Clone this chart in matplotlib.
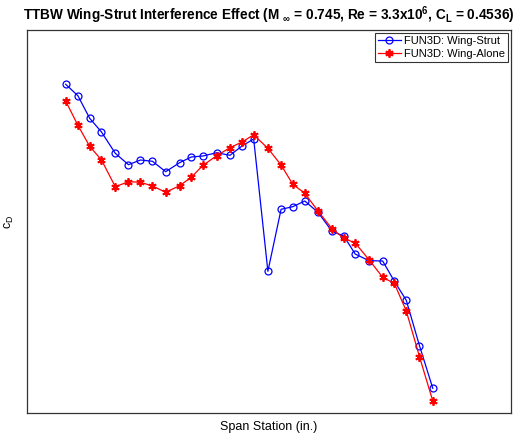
import matplotlib
matplotlib.use("Agg")
import matplotlib.pyplot as plt

# span stations (relative units)
span_station = [38.7, 50.9, 62.7, 74.5, 88.3, 101.5, 113.5, 125.5, 138.7, 152.6,
                164.3, 176.0, 189.7, 203.0, 215.0, 226.7, 240.9, 254.1, 265.8, 277.8,
                291.0, 305.0, 316.8, 328.2, 342.0, 355.7, 367.4, 379.3, 392.5, 405.8]

# sectional drag (relative units)
cd_wing_strut = [328.7, 317.3, 294.7, 281.0, 259.7, 248.3, 253.0, 251.7, 241.3, 250.3,
                 256.0, 257.0, 260.3, 257.7, 267.0, 274.0, 141.7, 203.7, 206.3, 212.0,
                 200.7, 181.7, 177.0, 159.0, 152.3, 152.0, 131.7, 112.7, 67.3, 24.7]

cd_wing_alone = [312.0, 287.7, 266.7, 253.0, 226.3, 231.3, 230.7, 227.0, 220.7, 227.3,
                 235.7, 247.7, 257.3, 265.3, 271.0, 278.2, 264.7, 248.0, 228.7, 219.7,
                 202.0, 184.3, 174.7, 170.0, 153.3, 135.7, 129.5, 102.0, 56.3, 12.0]

plt.rcParams['font.family'] = ['Liberation Sans', 'DejaVu Sans']
plt.rcParams['mathtext.fontset'] = 'custom'
plt.rcParams['mathtext.rm'] = 'Liberation Sans:bold'
plt.rcParams['mathtext.bf'] = 'Liberation Sans:bold'
plt.rcParams['mathtext.it'] = 'Liberation Sans:bold'
plt.rcParams['mathtext.sf'] = 'Liberation Sans'

fig = plt.figure(figsize=(5.15, 4.38), dpi=100)
ax = fig.add_axes([0.0524, 0.0571, 0.9398, 0.8744])

# matlab-style asterisk marker
asterisk = (6, 2, 0)

ax.plot(span_station, cd_wing_strut, color='blue', lw=0.9, marker='o',
        ms=5, mfc='none', mew=0.9, label='FUN3D: Wing-Strut')
ax.plot(span_station, cd_wing_alone, color='red', lw=0.9, marker=asterisk,
        ms=6, mew=1.3, label='FUN3D: Wing-Alone')

ax.set_xlim(0, 484)
ax.set_ylim(0, 383)
ax.set_xticks([])
ax.set_yticks([])
for s in ax.spines.values():
    s.set_color('#333333')
    s.set_linewidth(0.9)

ax.set_xlabel('Span Station (in.)', fontsize=9, labelpad=6)
ax.set_ylabel('c$_\\mathsf{D}$', fontsize=9, labelpad=8)
ax.set_title(r'TTBW Wing-Strut Interference Effect (M $_{\infty}$ = 0.745, Re = 3.3x10$^{6}$, C$_{L}$ = 0.4536)',
             fontsize=9.8, fontweight='bold', pad=7)

leg = ax.legend(loc='upper right', fontsize=8, frameon=True, fancybox=False,
                borderaxespad=0.25, handlelength=2.0, handletextpad=0.3,
                borderpad=0.3, labelspacing=0.25)
leg.get_frame().set_edgecolor('black')
leg.get_frame().set_linewidth(0.8)

fig.savefig('out.png', dpi=100)
